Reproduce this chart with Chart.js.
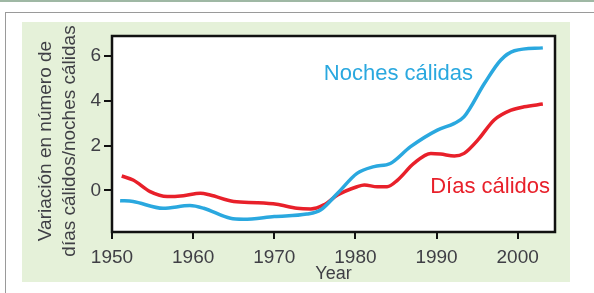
<!DOCTYPE html>
<html>
<head>
<meta charset="utf-8">
<script src="https://cdn.jsdelivr.net/npm/chart.js@4.4.1/dist/chart.umd.min.js"></script>
<style>
  html, body { margin: 0; padding: 0; background: #fff; }
  #wrap { position: relative; width: 594px; height: 293px; overflow: hidden; }
  .topline { position: absolute; left: 0; top: 0; width: 594px; height: 2px; background: #9fb8a4; }
  .grayline { position: absolute; left: 5px; top: 12px; width: 589px; height: 1px; background: #9a9a9a; }
  .vline { position: absolute; left: 5px; top: 12px; width: 1px; height: 281px; background: #9a9a9a; }
  .panel { position: absolute; left: 22px; top: 22px; width: 548px; height: 260px; background: #e5f1d9; }
  canvas { position: absolute; left: 0; top: 0; }
</style>
</head>
<body>
<div id="wrap">
  <div class="topline"></div>
  <div class="grayline"></div>
  <div class="vline"></div>
  <div class="panel"></div>
  <canvas id="chart" width="594" height="293"></canvas>
</div>
<script>
/* ============================================
   DATA
============================================ */

const nightYears = [1951, 1952.6, 1956.3, 1959.6, 1961.3, 1964.6, 1966.2, 1970, 1974, 1975.7, 1977.8, 1980.2, 1982.3, 1984.3, 1986.8, 1990.1, 1992.2, 1993.4, 1995.9, 1997.9, 1999.6, 2003.1];
const nightValues = [-0.46, -0.5, -0.8, -0.68, -0.8, -1.25, -1.29, -1.17, -1.06, -0.88, -0.13, 0.76, 1.06, 1.2, 1.95, 2.69, 2.99, 3.29, 4.77, 5.81, 6.23, 6.36];

const dayYears = [1951.2, 1952.6, 1954.7, 1956.8, 1958.8, 1960.9, 1962.1, 1965, 1967.9, 1970.3, 1972.8, 1974.5, 1976.1, 1977.8, 1980.2, 1981.1, 1982.7, 1983.9, 1985.2, 1987.2, 1989.3, 1990.5, 1992.2, 1993.4, 1995.1, 1997.1, 1999.2, 2000.8, 2003.1];
const dayValues = [0.64, 0.46, -0.06, -0.28, -0.24, -0.13, -0.21, -0.5, -0.55, -0.62, -0.8, -0.83, -0.65, -0.21, 0.16, 0.24, 0.16, 0.16, 0.46, 1.2, 1.65, 1.62, 1.53, 1.65, 2.25, 3.14, 3.58, 3.73, 3.85];

const xTicks = [1950, 1960, 1970, 1980, 1990, 2000];
const yTicks = [0, 2, 4, 6];

const seriesLabels = ["Noches cálidas", "Días cálidos"];
// label anchors in data units
const labelYears = [1985.3, 1996.6];
const labelValues = [5.2, 0.16];

const yTitleLines = ["Variación en número de", "días cálidos/noches cálidas"];

const BLUE = "#2aa8df";
const RED = "#e8202a";
const TEXT = "#3f3f45";
const FONT = "'Liberation Sans', Arial, sans-serif";

const toPoints = (xs, ys) => xs.map((x, i) => ({ x: x, y: ys[i] }));

/* ============================================
   Plugins
============================================ */

const frame = {
    id: "frame",
    beforeDatasetsDraw(chart) {
        const a = chart.chartArea, ctx = chart.ctx;
        ctx.save();
        ctx.fillStyle = "#fff";
        ctx.fillRect(a.left, a.top, a.right - a.left, a.bottom - a.top);
        ctx.restore();
    },
    afterDatasetsDraw(chart) {
        const a = chart.chartArea, ctx = chart.ctx;
        ctx.save();
        ctx.strokeStyle = "#111";
        ctx.lineWidth = 2.5;
        ctx.strokeRect(a.left, a.top, a.right - a.left, a.bottom - a.top);

        // series labels
        const xs = chart.scales.x, ys = chart.scales.y;
        ctx.font = "22px " + FONT;
        ctx.textAlign = "center";
        ctx.textBaseline = "middle";
        [BLUE, RED].forEach((c, i) => {
            ctx.fillStyle = c;
            ctx.fillText(seriesLabels[i], xs.getPixelForValue(labelYears[i]), ys.getPixelForValue(labelValues[i]));
        });

        // y axis title (two lines, rotated)
        ctx.translate(58, 141);
        ctx.rotate(-Math.PI / 2);
        ctx.font = "19px " + FONT;
        ctx.fillStyle = TEXT;
        ctx.fillText(yTitleLines[0], 0, -12);
        ctx.fillText(yTitleLines[1], 0, 12);
        ctx.restore();
    }
};

/* ============================================
   Chart
============================================ */

const ctx = document.getElementById("chart").getContext("2d");

new Chart(ctx, {
    type: "line",
    data: {
        datasets: [
            {
                label: seriesLabels[0],
                data: toPoints(nightYears, nightValues),
                borderColor: BLUE,
                borderWidth: 3.5,
                pointRadius: 0,
                cubicInterpolationMode: "monotone",
                fill: false
            },
            {
                label: seriesLabels[1],
                data: toPoints(dayYears, dayValues),
                borderColor: RED,
                borderWidth: 3.5,
                pointRadius: 0,
                cubicInterpolationMode: "monotone",
                fill: false
            }
        ]
    },
    options: {
        responsive: false,
        animation: false,
        layout: { padding: { left: 0, top: 36, right: 39, bottom: 8 } },
        plugins: {
            legend: { display: false },
            tooltip: { enabled: false }
        },
        scales: {
            x: {
                type: "linear",
                min: 1950,
                max: 2004.6,
                afterBuildTicks: s => { s.ticks = xTicks.map(v => ({ value: v })); },
                afterFit: s => { s.height = 53; },
                ticks: {
                    color: TEXT,
                    font: { family: FONT, size: 19 },
                    padding: 7,
                    maxRotation: 0,
                    callback: v => String(v)
                },
                grid: { drawOnChartArea: false, drawTicks: true, tickLength: 7, color: "#111", lineWidth: 2 },
                border: { display: false },
                title: {
                    display: true,
                    text: "Year",
                    color: TEXT,
                    font: { family: FONT, size: 18 },
                    padding: 0
                }
            },
            y: {
                min: -1.86,
                max: 6.89,
                afterBuildTicks: s => { s.ticks = yTicks.map(v => ({ value: v })); },
                afterFit: s => { s.width = 112; },
                ticks: {
                    color: TEXT,
                    font: { family: FONT, size: 19 },
                    padding: 3
                },
                grid: { drawOnChartArea: false, drawTicks: true, tickLength: 8, color: "#111", lineWidth: 2 },
                border: { display: false }
            }
        }
    },
    plugins: [frame]
});
</script>
</body>
</html>
